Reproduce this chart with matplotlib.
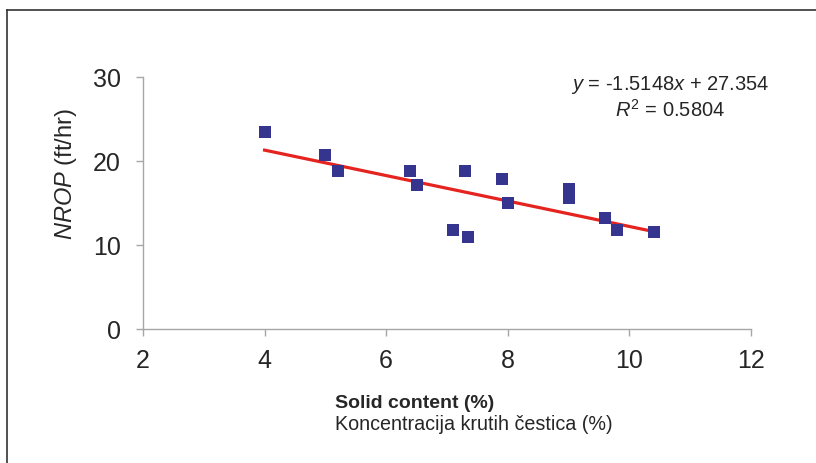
import numpy as np
import matplotlib.pyplot as plt
from matplotlib.lines import Line2D

plt.rcParams['font.family'] = ['Liberation Sans', 'DejaVu Sans']
plt.rcParams['mathtext.fontset'] = 'custom'
plt.rcParams['mathtext.rm'] = 'Liberation Sans'
plt.rcParams['mathtext.it'] = 'Liberation Sans:italic'

# solid content (%) vs normalised rate of penetration (ft/hr)
solid = [4.0, 5.0, 5.2, 6.4, 6.5, 7.1, 7.3, 7.35, 7.9, 8.0, 9.0, 9.0, 9.6, 9.8, 10.4]
nrop = [23.4, 20.7, 18.8, 18.8, 17.1, 11.8, 18.8, 11.0, 17.9, 15.0, 16.7, 15.6, 13.2, 11.8, 11.5]

slope = -1.5148
intercept = 27.354
r2 = 0.5804

fig = plt.figure(figsize=(8.16, 4.64), dpi=100)
ax = fig.add_axes([0.1752, 0.2888, 0.7451, 0.5431])

ax.plot(solid, nrop, linestyle='none', marker='s', markersize=9,
        color='#35358f', markeredgewidth=0, zorder=3)

xfit = np.array([min(solid), max(solid)])
ax.plot(xfit, slope * xfit + intercept, color='#e5231f', lw=2.3, zorder=2)

ax.set_xlim(2, 12)
ax.set_ylim(0, 30)
ax.set_xticks([2, 4, 6, 8, 10, 12])
ax.set_yticks([0, 10, 20, 30])

for side in ['top', 'right']:
    ax.spines[side].set_visible(False)
for side in ['left', 'bottom']:
    ax.spines[side].set_color('#a6a6a6')
    ax.spines[side].set_linewidth(1.0)
ax.tick_params(direction='out', length=5, width=1.0, color='#a6a6a6',
               labelsize=18, labelcolor='#262626', pad=9)
ax.tick_params(axis='y', pad=11)

ax.set_ylabel(r'$NROP$ (ft/hr)', fontsize=17, color='#262626')
ax.yaxis.set_label_coords(-0.105, 0.62)

ax.text(0.867, 0.972, r'$y$ = -1.5148$x$ + 27.354', transform=ax.transAxes,
        fontsize=14.5, ha='center', va='center', color='#262626')
ax.text(0.867, 0.873, r'$R^2$ = %.4f' % r2, transform=ax.transAxes,
        fontsize=14.5, ha='center', va='center', color='#262626')

fig.text(335 / 816, 1 - 404 / 464, 'Solid content (%)', fontsize=14,
         fontweight='bold', color='#262626', va='center')
fig.text(335 / 816, 1 - 425 / 464, 'Koncentracija krutih čestica (%)',
         fontsize=14.2, color='#262626', va='center')

# frame lines on top and left edge
fig.add_artist(Line2D([7 / 816, 1.0], [1 - 11 / 464, 1 - 11 / 464],
                      transform=fig.transFigure, color='#333333', lw=1.2))
fig.add_artist(Line2D([7 / 816, 7 / 816], [0.0, 1 - 11 / 464],
                      transform=fig.transFigure, color='#333333', lw=1.2))

fig.savefig('out.png', dpi=100)
